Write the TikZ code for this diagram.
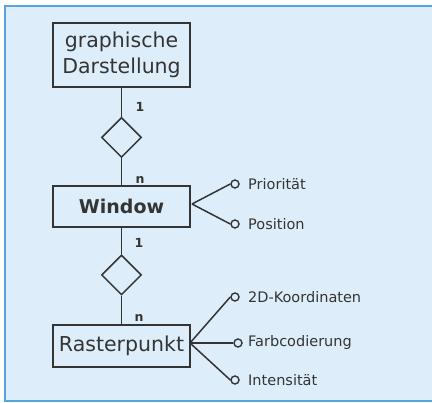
\documentclass[tikz,border=0pt]{standalone}
\usepackage{fontspec}
\setmainfont{DejaVu Sans}
\usetikzlibrary{shapes.geometric}
\definecolor{panel}{RGB}{221,238,250}
\definecolor{frameblue}{RGB}{88,165,222}
\definecolor{ink}{RGB}{52,52,52}
\begin{document}
\begin{tikzpicture}[x=1pt,y=-1pt,
  entity/.style={draw=ink,line width=1.5pt,minimum width=137pt,inner sep=2pt,
    font=\fontsize{20.5}{22}\selectfont,text=ink},
  relation/.style={draw=ink,line width=1.5pt,diamond,aspect=1,minimum size=40pt,inner sep=0pt},
  attrdot/.style={draw=ink,line width=1.4pt,circle,minimum size=8pt,inner sep=0pt},
  attrlabel/.style={anchor=west,inner sep=0pt,font=\fontsize{14.5}{16}\selectfont,text=ink},
  card/.style={inner sep=0pt,font=\fontsize{12.5}{14}\selectfont\bfseries,text=ink},
  link/.style={draw=ink,line width=1.5pt}]
\useasboundingbox (0,0) rectangle (432,403);
% panel background with its blue edge on left, top and bottom
\fill[panel] (5,6) rectangle (432,401);
\draw[frameblue,line width=1.8pt] (432,6) -- (5,6) -- (5,401) -- (432,401);

% entities
\node[entity,minimum height=64pt,align=center] (gd) at (121.5,55)
  {graphische\\[4pt]Darstellung};
\node[entity,minimum height=41pt,font=\fontsize{19}{21}\selectfont\bfseries] (win) at (121.5,206.5) {Window};
\node[entity,minimum height=42pt] (rp) at (121.5,346) {Rasterpunkt};

% relationships
\node[relation] (r1) at (121.5,137.5) {};
\node[relation] (r2) at (121.5,275) {};
\draw[link] (gd.south) -- (r1.north);
\draw[link] (r1.south) -- (win.north);
\draw[link] (win.south) -- (r2.north);
\draw[link] (r2.south) -- (rp.north);

% cardinalities
\node[card] (c1) at (140,107) {1};
\node[card] (c2) at (140,180) {n};
\node[card] (c3) at (139,243) {1};
\node[card] (c4) at (139,318) {n};

% attributes of Window
\node[attrdot] (a1) at (235,184) {};
\node[attrdot] (a2) at (235,224) {};
\node[attrlabel] (t1) at (248,184) {Priorität};
\node[attrlabel] (t2) at (248,224) {Position};
\coordinate (wj) at (192,204);
\draw[link] (wj) -- (a1.west);
\draw[link] (wj) -- (a2.west);

% attributes of Rasterpunkt
\node[attrdot] (b1) at (235,297) {};
\node[attrdot] (b2) at (238,343) {};
\node[attrdot] (b3) at (235,380) {};
\node[attrlabel] (u1) at (248,297) {2D-Koordinaten};
\node[attrlabel] (u2) at (248,343) {Farbcodierung};
\node[attrlabel] (u3) at (248,380) {Intensität};
\coordinate (rj) at (190,343);
\draw[link] (rj) -- (b1.west);
\draw[link] (rj) -- (b2.west);
\draw[link] (rj) -- (b3.west);
\end{tikzpicture}
\end{document}
